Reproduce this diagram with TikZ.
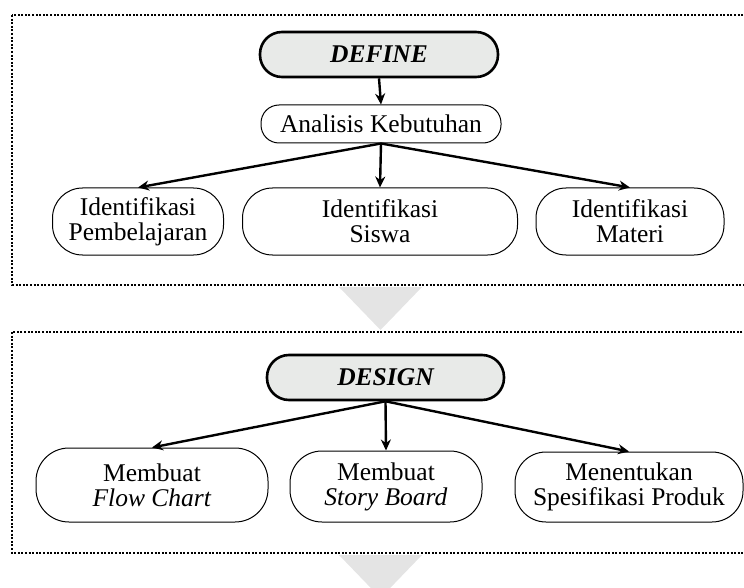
\documentclass[tikz,border=0pt]{standalone}
\usepackage{fontspec}
\setmainfont{Liberation Serif}
\usetikzlibrary{arrows.meta}
\definecolor{headfill}{HTML}{E8EAE8}
\definecolor{trigray}{HTML}{E4E4E4}
\tikzset{
  box/.style={draw=black, line width=1pt, rounded corners=21pt, inner sep=0pt,
    align=center, font=\fontsize{25.5}{25}\selectfont, fill=white},
  headbox/.style={box, line width=2.6pt, fill=headfill, rounded corners=22pt,
    font=\fontsize{25.5}{25}\selectfont\bfseries\itshape},
  conn/.style={line width=2.4pt, -{Stealth[length=11pt,width=10pt]}},
  frame/.style={line width=2.2pt, dash pattern=on 2pt off 1.6pt},
}
\begin{document}
\begin{tikzpicture}[x=1pt,y=-1pt]
\useasboundingbox (0,0) rectangle (744,588);
\clip (0,0) rectangle (744,588);
% frames and transition arrows
\draw[frame] (12,15) rectangle (770,285);
\draw[frame] (12,332) rectangle (770,553);
\fill[trigray] (339,287) -- (422,287) -- (380.5,330) -- cycle;
\fill[trigray] (339,555) -- (422,555) -- (380.5,598) -- cycle;
% DEFINE
\node[headbox, minimum width=238pt, minimum height=45pt] (define) at (379,54.5) {DEFINE};
\node[box, minimum width=240pt, minimum height=38pt, rounded corners=18pt] (ana) at (381,124) {Analisis Kebutuhan};
\node[box, minimum width=171pt, minimum height=67pt, rounded corners=30pt] (ip) at (138,221.5) {Identifikasi\\Pembelajaran};
\node[box, minimum width=275pt, minimum height=67pt, rounded corners=30pt] (is) at (380,221.5) {Identifikasi\\Siswa};
\node[box, minimum width=188pt, minimum height=67pt, rounded corners=30pt] (im) at (630,221.5) {Identifikasi\\Materi};
\draw[conn] (define.south) -- (ana.north);
\draw[conn] (ana.south) -- (ip.north);
\draw[conn] (ana.south) -- (is.north);
\draw[conn] (ana.south) -- (im.north);
% DESIGN
\node[headbox, minimum width=237pt, minimum height=45pt] (design) at (385.5,377.5) {DESIGN};
\node[box, minimum width=232pt, minimum height=74pt, rounded corners=33pt] (fc) at (152,485) {Membuat\\\textit{Flow Chart}};
\node[box, minimum width=192pt, minimum height=71pt, rounded corners=32pt] (sb) at (386,486.5) {Membuat\\\textit{Story Board}};
\node[box, minimum width=228pt, minimum height=70pt, rounded corners=31pt] (sp) at (629,487) {Menentukan\\Spesifikasi Produk};
\draw[conn] (design.south) -- (fc.north);
\draw[conn] (design.south) -- (sb.north);
\draw[conn] (design.south) -- (sp.north);
\end{tikzpicture}
\end{document}
